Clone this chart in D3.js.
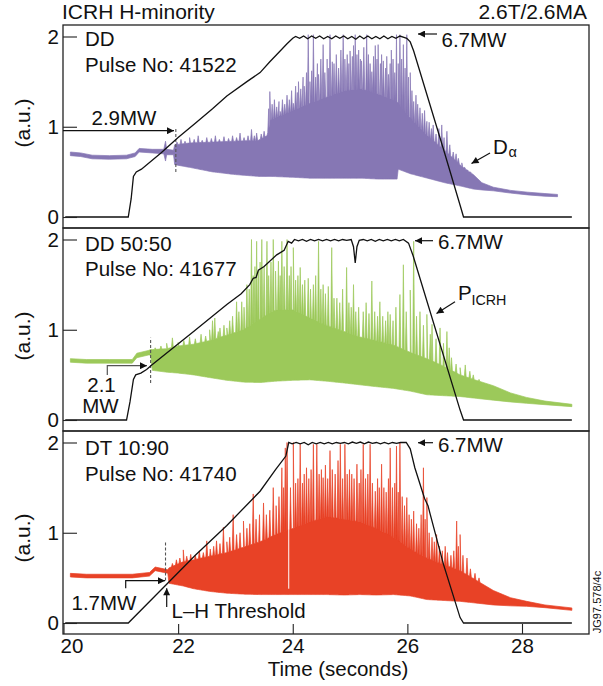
<!DOCTYPE html>
<html>
<head>
<meta charset="utf-8">
<script src="https://cdn.jsdelivr.net/npm/d3@7/dist/d3.min.js"></script>
<style>
body { margin: 0; background: #fff; }
text { font-family: "Liberation Sans", Arial, sans-serif; fill: #111; }
</style>
</head>
<body>
<script>
var timeTicks = [20, 22, 24, 26, 28];
var valueTicks = [0, 1, 2];

// D-alpha bands: [time, lower, upper]
var dalphaDD = [
  [20.12,0.68,0.72],[20.3,0.67,0.71],[20.5,0.645,0.685],[20.8,0.64,0.68],[21.1,0.645,0.685],
  [21.25,0.67,0.71],[21.32,0.72,0.76],[21.55,0.71,0.75],[21.75,0.70,0.75],[21.78,0.62,0.84],
  [21.8,0.69,0.75],[21.92,0.69,0.74],[21.94,0.58,0.80],[22.2,0.55,0.82],[22.6,0.50,0.83],
  [23.0,0.47,0.84],[23.4,0.45,0.85],[23.55,0.45,0.9],[23.62,0.45,1.08],[24.0,0.44,1.18],
  [24.3,0.43,1.26],[24.6,0.43,1.33],[24.9,0.43,1.4],[25.2,0.43,1.42],[25.5,0.42,1.36],
  [25.82,0.42,1.28],[25.84,0.53,1.26],[26.05,0.48,1.1],[26.35,0.43,0.9],[26.65,0.38,0.74],
  [26.95,0.34,0.56],[27.15,0.31,0.47],[27.3,0.30,0.38],[27.5,0.29,0.33],[27.8,0.265,0.295],
  [28.1,0.245,0.275],[28.4,0.23,0.26],[28.62,0.225,0.25]
];
var dalphaDD5050 = [
  [20.12,0.64,0.68],[20.4,0.63,0.67],[20.8,0.63,0.67],[21.2,0.63,0.67],[21.28,0.69,0.74],
  [21.48,0.72,0.77],[21.52,0.72,0.78],[21.55,0.55,0.78],[21.8,0.53,0.79],[22.0,0.52,0.82],
  [22.27,0.50,0.84],[22.55,0.47,0.88],[22.85,0.44,0.94],[23.14,0.42,1.0],[23.43,0.415,1.12],
  [23.7,0.43,1.22],[24.01,0.44,1.22],[24.3,0.445,1.13],[24.59,0.43,1.05],[24.9,0.41,0.98],
  [25.17,0.39,0.92],[25.45,0.37,0.88],[25.76,0.35,0.83],[26.05,0.32,0.75],[26.34,0.28,0.68],
  [26.62,0.27,0.6],[26.92,0.26,0.5],[27.2,0.24,0.44],[27.5,0.22,0.38],[27.8,0.2,0.30],
  [28.08,0.185,0.25],[28.4,0.17,0.21],[28.87,0.148,0.174]
];
var dalphaDT = [
  [20.12,0.51,0.55],[20.4,0.50,0.54],[20.8,0.50,0.54],[21.2,0.50,0.54],[21.5,0.52,0.56],
  [21.6,0.58,0.62],[21.75,0.56,0.6],[21.82,0.55,0.59],[21.84,0.44,0.61],[22.09,0.41,0.68],
  [22.27,0.38,0.7],[22.55,0.35,0.74],[22.85,0.33,0.78],[23.14,0.32,0.84],[23.43,0.315,0.9],
  [23.7,0.315,0.98],[24.01,0.315,1.05],[24.3,0.315,1.12],[24.59,0.315,1.18],[24.9,0.31,1.15],
  [25.17,0.315,1.12],[25.46,0.31,1.05],[25.76,0.315,0.95],[26.05,0.30,0.82],[26.34,0.26,0.72],
  [26.62,0.25,0.65],[26.92,0.24,0.58],[27.21,0.22,0.47],[27.5,0.2,0.36],[27.8,0.19,0.28],
  [28.08,0.185,0.24],[28.4,0.17,0.2],[28.87,0.14,0.167]
];

// ELM spikes: [time, peak]
var spikesDD = [
  [21.98,0.83],[22.05,0.86],[22.12,0.84],[22.2,0.88],[22.28,0.86],[22.35,0.9],[22.42,0.85],
  [22.5,0.88],[22.58,0.87],[22.65,0.9],[22.72,0.86],[22.8,0.89],[22.88,0.87],[22.95,0.9],
  [23.02,0.88],[23.08,0.93],[23.15,0.88],[23.22,0.9],[23.28,0.97],[23.33,0.9],[23.37,0.93],
  [23.45,0.92],[23.5,0.95],[23.58,1.2],[23.6,1.39],[23.64,1.25],[23.68,1.3],[23.72,1.22],
  [23.76,1.28],[23.78,1.17],[23.82,1.3],[23.86,1.25],[23.9,1.35],[23.94,1.3],[23.98,1.4],
  [24.01,1.26],[24.05,1.45],[24.08,1.38],[24.1,1.5],[24.14,1.42],[24.18,1.55],[24.2,1.45],
  [24.24,1.6],[24.27,2.02],[24.3,1.5],[24.33,1.62],[24.36,2.02],[24.4,1.55],[24.43,1.7],
  [24.45,1.58],[24.49,1.75],[24.53,1.91],[24.56,1.6],[24.6,1.75],[24.62,1.65],[24.65,2.02],
  [24.69,1.72],[24.72,1.7],[24.76,1.8],[24.8,1.65],[24.84,1.85],[24.88,2.02],[24.91,1.75],
  [24.95,1.8],[24.98,1.7],[25.0,1.84],[25.04,1.78],[25.06,1.9],[25.09,2.02],[25.12,1.8],
  [25.15,1.85],[25.18,1.75],[25.2,1.73],[25.24,1.88],[25.29,2.02],[25.32,1.8],[25.35,1.7],
  [25.38,1.61],[25.41,1.78],[25.44,1.9],[25.47,1.75],[25.49,1.91],[25.53,1.7],[25.55,1.8],
  [25.58,1.73],[25.62,1.65],[25.64,1.78],[25.67,1.58],[25.7,1.7],[25.72,1.85],[25.75,1.75],
  [25.78,1.6],[25.81,2.02],[25.84,1.7],[25.87,2.02],[25.9,1.75],[25.93,1.91],[25.96,1.65],
  [25.99,2.02],[26.02,1.55],[26.05,1.6],[26.08,1.4],[26.11,1.28],[26.15,1.35],[26.18,1.25],
  [26.22,1.21],[26.26,1.15],[26.3,1.18],[26.34,1.06],[26.38,1.05],[26.42,0.98],[26.45,1.02],
  [26.5,0.92],[26.55,0.98],[26.6,1.02],[26.64,0.88],[26.69,0.95],[26.74,0.8],[26.8,0.72],
  [26.85,0.7],[26.89,0.65],[26.95,0.6],[27.0,0.55],[27.05,0.52],[27.1,0.5]
];
var spikesDD5050 = [
  [21.6,0.8],[21.7,0.82],[21.8,0.85],[21.9,0.91],[22.0,0.86],[22.1,0.88],[22.2,0.92],
  [22.3,0.9],[22.4,0.95],[22.48,0.93],[22.55,1.0],[22.6,1.1],[22.64,1.13],[22.7,0.98],
  [22.73,1.02],[22.8,1.05],[22.85,1.02],[22.9,1.1],[22.95,1.15],[23.02,1.31],[23.06,1.2],
  [23.11,1.31],[23.15,1.25],[23.2,1.5],[23.24,1.45],[23.28,2.0],[23.31,1.6],[23.34,1.7],
  [23.37,1.98],[23.4,1.65],[23.43,1.75],[23.46,2.0],[23.5,1.7],[23.55,1.98],[23.58,1.6],
  [23.62,1.75],[23.66,2.0],[23.7,1.65],[23.75,1.76],[23.78,1.6],[23.81,1.98],[23.85,1.7],
  [23.9,2.0],[23.94,1.6],[23.97,1.7],[24.01,1.91],[24.05,1.55],[24.09,1.6],[24.13,1.69],
  [24.17,1.5],[24.21,1.55],[24.27,1.57],[24.31,1.45],[24.36,1.5],[24.4,1.6],[24.45,1.98],
  [24.49,1.45],[24.53,1.5],[24.57,1.4],[24.62,1.48],[24.68,1.91],[24.72,1.35],[24.77,1.35],
  [24.82,1.3],[24.87,1.45],[24.94,1.69],[24.98,1.3],[25.02,1.25],[25.06,1.5],[25.1,1.2],
  [25.15,1.25],[25.23,1.2],[25.28,1.3],[25.33,1.18],[25.38,1.54],[25.43,1.2],[25.48,1.15],
  [25.52,1.31],[25.57,1.15],[25.62,1.1],[25.66,1.2],[25.7,1.17],[25.75,1.1],[25.8,1.25],
  [25.87,1.39],[25.93,1.72],[25.98,1.2],[26.05,1.44],[26.11,1.98],[26.16,1.15],[26.22,1.2],
  [26.28,1.05],[26.34,1.17],[26.4,0.95],[26.43,1.06],[26.5,0.9],[26.57,1.02],[26.63,0.85],
  [26.69,0.98],[26.73,0.8],[26.77,0.69],[26.85,0.62],[26.92,0.58],[27.01,0.61],[27.09,0.54],
  [27.15,0.5],[27.25,0.45]
];
var spikesDT = [
  [21.9,0.66],[21.97,0.7],[22.03,0.72],[22.09,0.81],[22.15,0.74],[22.22,0.76],[22.3,0.75],
  [22.37,0.8],[22.44,0.78],[22.5,0.91],[22.56,0.82],[22.62,0.85],[22.67,0.91],[22.73,0.88],
  [22.79,1.06],[22.85,0.9],[22.9,0.95],[22.96,1.2],[23.02,0.98],[23.08,1.0],[23.14,1.13],
  [23.2,1.05],[23.25,1.1],[23.31,1.43],[23.36,1.15],[23.42,1.2],[23.49,1.33],[23.54,1.2],
  [23.6,1.25],[23.66,1.5],[23.71,1.3],[23.76,1.4],[23.81,1.72],[23.84,1.5],[23.87,1.94],
  [23.9,2.0],[23.96,1.5],[24.01,2.0],[24.05,1.55],[24.09,1.6],[24.13,1.98],[24.17,1.55],
  [24.2,1.65],[24.24,1.72],[24.28,1.6],[24.32,1.7],[24.36,1.98],[24.42,1.98],[24.46,1.65],
  [24.5,1.7],[24.53,1.61],[24.57,1.75],[24.61,1.6],[24.65,1.91],[24.69,1.7],[24.74,1.65],
  [24.79,1.8],[24.83,1.98],[24.87,1.6],[24.91,1.98],[24.95,1.65],[24.99,1.7],[25.03,1.65],
  [25.07,1.6],[25.12,1.76],[25.16,1.55],[25.19,1.7],[25.23,1.98],[25.27,1.6],[25.31,1.65],
  [25.35,1.98],[25.39,1.55],[25.44,1.46],[25.48,1.6],[25.51,1.5],[25.55,1.76],[25.59,1.5],
  [25.63,1.45],[25.67,1.6],[25.7,1.94],[25.74,1.5],[25.78,1.55],[25.81,1.96],[25.84,1.45],
  [25.87,2.0],[25.91,1.4],[25.95,1.3],[25.99,1.39],[26.03,1.2],[26.07,1.15],[26.11,1.24],
  [26.16,1.1],[26.2,1.05],[26.24,1.2],[26.28,1.72],[26.31,1.15],[26.34,1.39],[26.38,1.0],
  [26.43,0.95],[26.47,0.9],[26.51,0.98],[26.56,0.85],[26.61,0.8],[26.66,0.85],[26.7,0.78],
  [26.76,0.75],[26.81,0.8],[26.86,1.13],[26.89,0.85],[26.92,0.98],[26.97,0.75],[27.04,0.72],
  [27.1,0.6],[27.18,0.55],[27.25,0.5]
];
// short drop-outs in the signal: [time, from, to]
var gapsDT = [[23.93,0.38,1.95]];

// ICRH power (scaled, 2 = 6.7MW): [time, value]
var powerDD = [
  [20.03,0],[21.13,0],[21.18,0.2],[21.22,0.45],[21.27,0.5],[21.36,0.53],[21.7,0.71],[22.0,0.88],
  [22.3,1.04],[22.6,1.2],[22.85,1.34],[23.2,1.5],[23.43,1.6],[23.6,1.72],[23.78,1.84],[23.9,1.92],
  [24.0,1.98],[24.05,2.0],[24.12,1.98],[24.19,2.005],[24.26,1.975],[24.33,2.005],[24.4,1.98],
  [24.47,2.005],[24.54,1.975],[24.61,2.0],[24.68,1.975],[24.75,2.005],[24.82,1.98],[24.89,2.005],
  [24.96,1.975],[25.03,2.0],[25.1,1.97],[25.17,2.005],[25.24,1.975],[25.31,2.005],[25.38,1.975],
  [25.45,2.0],[25.52,1.975],[25.59,2.005],[25.66,1.975],[25.73,2.0],[25.8,1.98],[25.87,2.005],
  [25.94,1.99],[25.99,1.98],[26.05,1.94],[26.11,1.84],[26.63,0.75],[26.92,0.13],[26.98,0],[28.87,0]
];
var powerDD5050 = [
  [20.03,0],[21.10,0],[21.16,0.2],[21.22,0.45],[21.26,0.5],[21.35,0.52],[21.45,0.56],[21.54,0.61],
  [22.27,0.98],[22.85,1.28],[23.1,1.4],[23.25,1.5],[23.31,1.57],[23.36,1.58],[23.4,1.66],
  [23.5,1.7],[23.72,1.83],[23.85,1.88],[23.92,1.98],[23.98,1.96],[24.03,2.0],[24.1,1.985],
  [24.17,2.0],[24.24,1.98],[24.31,2.0],[24.38,1.985],[24.45,2.0],[24.52,1.985],[24.59,2.0],
  [24.66,1.985],[24.73,2.0],[24.8,1.985],[24.87,2.0],[24.94,1.99],[25.02,2.0],[25.06,1.92],
  [25.09,1.74],[25.12,1.92],[25.16,1.99],[25.23,2.0],[25.3,1.985],[25.37,2.0],[25.44,1.98],
  [25.51,2.0],[25.58,1.985],[25.65,2.0],[25.72,1.985],[25.79,2.0],[25.86,1.985],[25.93,2.0],
  [26.02,1.96],[26.1,1.82],[26.92,0.11],[26.98,0],[28.87,0]
];
var powerDT = [
  [20.03,0],[21.13,0],[21.8,0.43],[22.3,0.75],[22.85,1.08],[23.43,1.46],[23.7,1.7],[23.88,1.85],
  [23.93,2.0],[23.99,1.985],[24.06,2.0],[24.13,1.985],[24.2,2.0],[24.27,1.975],[24.34,2.0],
  [24.41,1.985],[24.48,2.0],[24.55,1.985],[24.62,2.0],[24.69,1.985],[24.76,2.0],[24.83,1.99],
  [24.9,2.0],[24.97,1.985],[25.04,2.005],[25.11,1.99],[25.18,2.005],[25.25,1.985],[25.32,2.005],
  [25.39,1.99],[25.46,2.0],[25.53,1.985],[25.6,2.0],[25.67,1.985],[25.74,2.0],[25.81,1.99],
  [25.88,2.0],[25.98,2.0],[26.05,1.93],[26.13,1.72],[26.3,1.38],[26.36,1.3],[26.4,1.2],
  [26.63,0.65],[26.92,0.06],[26.98,0],[28.87,0]
];

var svg = d3.select('body').append('svg')
    .attr('width', 603)
    .attr('height', 686);

var defs = svg.append('defs');
defs.append('marker')
    .attr('id', 'head')
    .attr('viewBox', '0 0 10 10')
    .attr('refX', 10)
    .attr('refY', 5)
    .attr('markerUnits', 'userSpaceOnUse')
    .attr('markerWidth', 9)
    .attr('markerHeight', 7)
    .attr('orient', 'auto')
  .append('path')
    .attr('d', 'M0,0L10,5L0,10z')
    .attr('fill', '#111');

var x = d3.scaleLinear().domain([20, 28]).range([63.5, 522]);
var left = 63, right = 589, panelH = 203;

var panels = [
  {top: 25, band: dalphaDD, spikes: spikesDD, gaps: [], power: powerDD, color: '#8677b4',
   name: 'DD', pulse: 'Pulse No: 41522', nameY: 46, pulseY: 72, dash: [21.96, 0.5, 0.99], auY: 123},
  {top: 228, band: dalphaDD5050, spikes: spikesDD5050, gaps: [], power: powerDD5050, color: '#9cc95a',
   name: 'DD 50:50', pulse: 'Pulse No: 41677', nameY: 251, pulseY: 276, dash: [21.52, 0.41, 0.91], auY: 336},
  {top: 431, band: dalphaDT, spikes: spikesDT, gaps: gapsDT, power: powerDT, color: '#e84226',
   name: 'DT 10:90', pulse: 'Pulse No: 41740', nameY: 455, pulseY: 481, dash: [21.78, 0.47, 0.9], auY: 538}
];

var byTime = d3.bisector(function (d) { return d[0]; }).left;

// value of column j of a band at time t (linear between rows)
function bandAt(band, t, j) {
  var i = byTime(band, t);
  if (i <= 0) return band[0][j];
  if (i >= band.length) return band[band.length - 1][j];
  var a = band[i - 1], b = band[i];
  return a[j] + (t - a[0]) / (b[0] - a[0]) * (b[j] - a[j]);
}

// band outline with every spike drawn as a narrow tooth on its upper edge
function toothed(band, spikes) {
  var pts = band.map(function (d) { return [d[0], d[1], d[2]]; });
  spikes.forEach(function (s) {
    [s[0] - 0.016, s[0] + 0.016].forEach(function (t) {
      pts.push([t, bandAt(band, t, 1), bandAt(band, t, 2)]);
    });
    pts.push([s[0], bandAt(band, s[0], 1), Math.max(s[1], bandAt(band, s[0], 2))]);
  });
  pts.sort(function (a, b) { return a[0] - b[0]; });
  return pts;
}

function arrow(pts, color) {
  svg.append('path')
      .attr('d', d3.line()(pts))
      .attr('fill', 'none')
      .attr('stroke', color || '#111')
      .attr('stroke-width', 1.2)
      .attr('marker-end', 'url(#head)');
}

function label(txt, px, py, size, anchor) {
  return svg.append('text')
      .attr('x', px)
      .attr('y', py)
      .attr('font-size', size || 20.5)
      .attr('text-anchor', anchor || 'start')
      .text(txt);
}

panels.forEach(function (p, k) {
  var y = d3.scaleLinear().domain([0, 2]).range([p.top + 192, p.top + 11.5]);

  defs.append('clipPath').attr('id', 'clip' + k)
    .append('rect')
      .attr('x', left).attr('y', p.top)
      .attr('width', right - left).attr('height', panelH);

  var g = svg.append('g').attr('clip-path', 'url(#clip' + k + ')');

  g.append('path')
      .datum(toothed(p.band, p.spikes))
      .attr('fill', p.color)
      .attr('stroke', p.color)
      .attr('stroke-width', 0.7)
      .attr('stroke-linejoin', 'round')
      .attr('d', d3.area()
          .x(function (d) { return x(d[0]); })
          .y0(function (d) { return y(d[1]); })
          .y1(function (d) { return y(d[2]); }));

  g.selectAll('.gap')
      .data(p.gaps)
    .enter().append('line')
      .attr('x1', function (d) { return x(d[0]); })
      .attr('x2', function (d) { return x(d[0]); })
      .attr('y1', function (d) { return y(d[1]); })
      .attr('y2', function (d) { return y(d[2]); })
      .attr('stroke', '#fff')
      .attr('stroke-width', 1);

  // L-H threshold marker
  g.append('line')
      .attr('x1', x(p.dash[0])).attr('x2', x(p.dash[0]))
      .attr('y1', y(p.dash[1])).attr('y2', y(p.dash[2]))
      .attr('stroke', '#555')
      .attr('stroke-width', 1.1)
      .attr('stroke-dasharray', '3,2');

  g.append('path')
      .datum(p.power)
      .attr('fill', 'none')
      .attr('stroke', '#111')
      .attr('stroke-width', 1.3)
      .attr('d', d3.line()
          .x(function (d) { return x(d[0]); })
          .y(function (d) { return y(d[1]); }));

  var ya = svg.append('g')
      .attr('transform', 'translate(' + left + ',0)')
      .call(d3.axisLeft(y).tickValues(valueTicks).tickSize(-14).tickPadding(4).tickFormat(d3.format('d')));
  ya.select('.domain').remove();
  ya.selectAll('line').attr('stroke', '#222').attr('stroke-width', 1.1);
  ya.selectAll('text').attr('font-size', 20.5).attr('font-family', '"Liberation Sans", Arial, sans-serif').attr('fill', '#111');

  svg.append('rect')
      .attr('x', left).attr('y', p.top)
      .attr('width', right - left).attr('height', panelH)
      .attr('fill', 'none')
      .attr('stroke', '#222')
      .attr('stroke-width', 1.3);

  label(p.name, 85, p.nameY);
  label(p.pulse, 85, p.pulseY);

  svg.append('text')
      .attr('transform', 'translate(22,' + p.auY + ') rotate(-90)')
      .attr('text-anchor', 'middle')
      .attr('dominant-baseline', 'central')
      .attr('font-size', 21)
      .text('(a.u.)');
});

var xa = svg.append('g')
    .attr('transform', 'translate(0,' + (431 + panelH) + ')')
    .call(d3.axisBottom(x).tickValues(timeTicks).tickSize(-10).tickPadding(4.5));
xa.select('.domain').remove();
xa.selectAll('line').attr('stroke', '#222').attr('stroke-width', 1.1);
xa.selectAll('text').attr('font-size', 20.5).attr('font-family', '"Liberation Sans", Arial, sans-serif').attr('fill', '#111');
xa.selectAll('text').filter(function (d) { return d === 20; }).attr('dx', 8);
xa.selectAll('text').filter(function (d) { return d === 22; }).attr('dx', 5);

label('Time (seconds)', 338, 676, 20.5, 'middle');
label('ICRH H-minority', 62, 18.5, 21);
label('2.6T/2.6MA', 587, 18.5, 21, 'end');

svg.append('text')
    .attr('transform', 'translate(597,602) rotate(-90)')
    .attr('text-anchor', 'middle')
    .attr('dominant-baseline', 'central')
    .attr('font-size', 11)
    .text('JG97.578/4c');

// top panel notes
label('2.9MW', 91.5, 125);
arrow([[63, 130.7], [174, 130.7]]);
label('6.7MW', 441.5, 46.5);
arrow([[437, 34], [418, 34]]);
label('D', 493, 153.5);
label('\u03b1', 508.5, 157, 14.5);
arrow([[490, 153], [471.5, 163.5]]);

// middle panel notes
label('6.7MW', 438, 248.5);
arrow([[433, 240.7], [415, 240.7]]);
label('P', 458, 300);
label('ICRH', 471.5, 304.5, 14.3);
arrow([[455, 301.7], [436.5, 313.5]]);
label('2.1', 101.5, 391.5, 20.5, 'middle');
label('MW', 100.5, 413, 20.5, 'middle');
arrow([[107.3, 375], [107.3, 365.7], [147, 365.7]], '#555');

// bottom panel notes
label('6.7MW', 438, 451.5);
arrow([[433, 442.7], [418, 442.7]]);
label('1.7MW', 71.5, 610);
arrow([[125.7, 588.3], [125.7, 580.7], [165, 580.7]]);
label('L\u2013H Threshold', 171.5, 618.3);
arrow([[166.7, 607], [166.7, 588.3]]);
</script>
</body>
</html>
